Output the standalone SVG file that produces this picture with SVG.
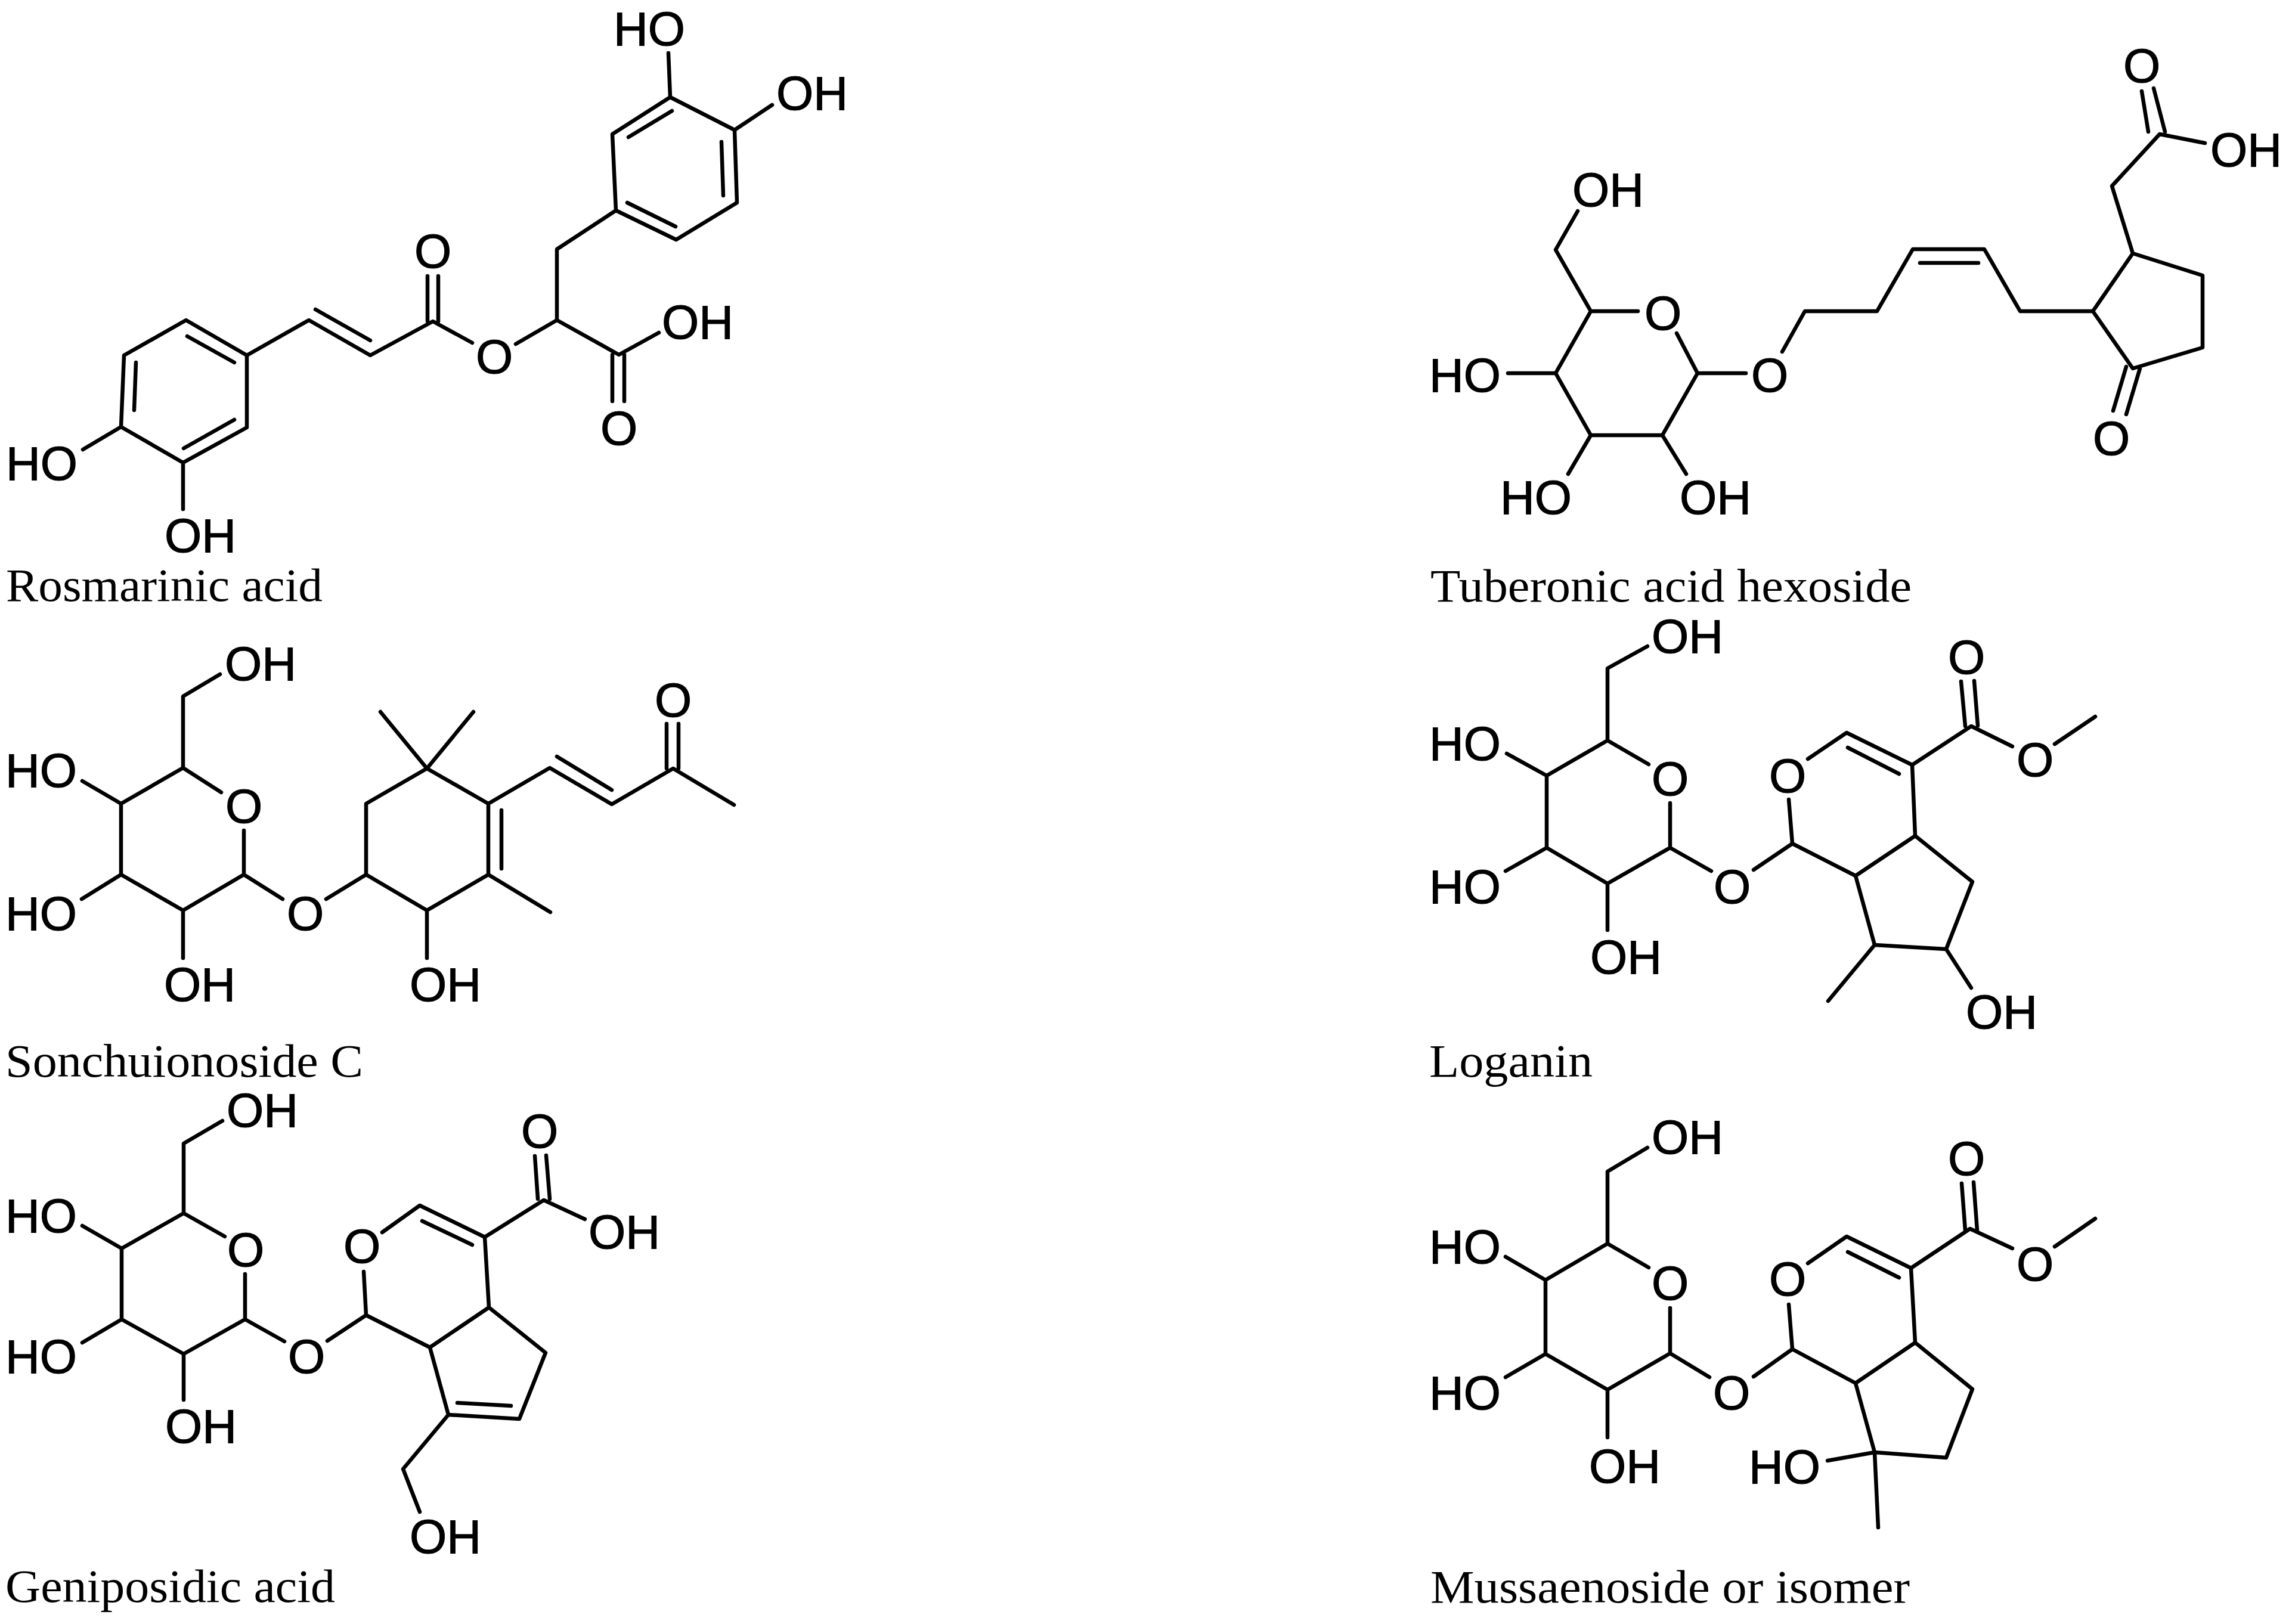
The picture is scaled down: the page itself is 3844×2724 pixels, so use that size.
<svg xmlns="http://www.w3.org/2000/svg" width="3844" height="2724" viewBox="0 0 3844 2724">
<style>
.b{fill:none;stroke:#000;stroke-width:6.5;stroke-linecap:round;stroke-linejoin:round}
.a{font-family:"Liberation Sans",Arial,sans-serif;font-size:80px;fill:#000;stroke:#000;stroke-width:1.2}
.m{text-anchor:middle}
.c{font-family:"Liberation Serif","Times New Roman",serif;font-size:78px;fill:#000}
</style>
<rect width="3844" height="2724" fill="#fff"/>
<g id="rosmarinic-acid">
<path class="b" d="M1124 163L1232 218L1236 340L1134 402L1033 353L1027 225Z M1127 186L1054 230 M1210 238L1213 328 M1133 380L1052 340 M1121 89L1124 163 M1295 176L1232 218 M1033 353L934 418L934 537L865 577 M934 537L1038 595L1105 558 M1027 595L1027 673 M1047 595L1047 673 M792 575L726 539L621 596L518 537L414 596 M717 539L717 463 M735 539L735 463 M621 571L529 519 M414 596L414 717L307 776L203 716L208 596L312 537Z M393 608L314 564 M228 608L225 688 M393 704L308 752 M203 716L139 754 M307 776L307 854"/>
<text class="a" x="1029" y="76">HO</text>
<text class="a" x="1302" y="184">OH</text>
<text class="a m" x="726" y="449">O</text>
<text class="a m" x="829" y="626">O</text>
<text class="a" x="1110" y="568">OH</text>
<text class="a m" x="1038" y="746">O</text>
<text class="a" x="10" y="805">HO</text>
<text class="a" x="276" y="926">OH</text>
<text class="c" x="10" y="1008" textLength="531" lengthAdjust="spacingAndGlyphs">Rosmarinic acid</text>
</g>
<g id="tuberonic-acid-hexoside">
<path class="b" d="M2747 522L2668 522L2609 626L2668 730L2788 730L2847 626L2812 559 M2668 522L2609 419L2646 354 M2609 626L2529 626 M2668 730L2630 795 M2788 730L2828 795 M2847 626L2928 626 M2989 590L3027 522L3148 522L3208 418L3328 418L3388 522L3510 522 M3510 522L3577 425L3694 462L3694 583L3577 618Z M3220 441L3318 441 M3577 425L3542 312L3622 225L3698 240 M3603 221L3592 153 M3631 221L3612 148 M3566 615L3544 689 M3589 618L3566 695"/>
<text class="a m" x="3592" y="138">O</text>
<text class="a" x="3707" y="279">OH</text>
<text class="a" x="2637" y="346">OH</text>
<text class="a m" x="2789" y="553">O</text>
<text class="a m" x="2968" y="657">O</text>
<text class="a" x="2397" y="657">HO</text>
<text class="a" x="2516" y="862">HO</text>
<text class="a" x="2817" y="862">OH</text>
<text class="a m" x="3541" y="763">O</text>
<text class="c" x="2399" y="1009" textLength="807" lengthAdjust="spacingAndGlyphs">Tuberonic acid hexoside</text>
</g>
<g id="sonchuionoside-c">
<path class="b" d="M409 1393L409 1467L307 1527L203 1467L203 1348L307 1288L371 1329 M307 1288L307 1168L369 1131 M203 1348L138 1310 M203 1467L137 1508 M307 1527L307 1607 M409 1467L474 1508 M547 1508L614 1467L614 1348L716 1289L819 1348L819 1467L716 1527L614 1467 M841 1359L841 1457 M716 1289L638 1194 M716 1289L794 1194 M819 1467L923 1530 M716 1527L716 1607 M819 1348L922 1288L1026 1349L1129 1289L1231 1350 M934 1269L1026 1325 M1118 1289L1118 1214 M1138 1289L1138 1214"/>
<text class="a" x="377" y="1141">OH</text>
<text class="a" x="9" y="1320">HO</text>
<text class="a m" x="409" y="1380">O</text>
<text class="a" x="9" y="1560">HO</text>
<text class="a m" x="512" y="1560">O</text>
<text class="a" x="275" y="1679">OH</text>
<text class="a" x="687" y="1679">OH</text>
<text class="a m" x="1129" y="1202">O</text>
<text class="c" x="9" y="1806" textLength="600" lengthAdjust="spacingAndGlyphs">Sonchuionoside C</text>
</g>
<g id="loganin">
<path class="b" d="M2801 1347L2801 1422L2696 1482L2594 1422L2594 1301L2696 1242L2765 1282 M2696 1242L2696 1121L2763 1084 M2594 1301L2527 1264 M2594 1422L2525 1461 M2696 1482L2696 1560 M2801 1422L2870 1461 M2941 1459L3006 1415L3000 1341 M3032 1273L3097 1229L3207 1283L3212 1402L3112 1469L3006 1415 M3099 1254L3185 1298 M3207 1283L3306 1218L3375 1252 M3446 1248L3514 1202 M3296 1218L3289 1143 M3317 1217L3311 1142 M3212 1402L3308 1479L3264 1592L3144 1585L3112 1469 M3144 1585L3066 1679 M3264 1592L3306 1657"/>
<text class="a" x="2770" y="1095">OH</text>
<text class="a" x="2397" y="1275">HO</text>
<text class="a m" x="2801" y="1334">O</text>
<text class="a m" x="2998" y="1329">O</text>
<text class="a m" x="3298" y="1130">O</text>
<text class="a m" x="3413" y="1302">O</text>
<text class="a" x="2397" y="1515">HO</text>
<text class="a m" x="2905" y="1515">O</text>
<text class="a" x="2667" y="1633">OH</text>
<text class="a" x="3297" y="1725">OH</text>
<text class="c" x="2397" y="1806" textLength="274" lengthAdjust="spacingAndGlyphs">Loganin</text>
</g>
<g id="geniposidic-acid">
<path class="b" d="M411 2137L411 2213L308 2271L204 2213L204 2094L308 2035L377 2074 M308 2035L308 1918L373 1880 M204 2094L138 2056 M204 2213L138 2252 M308 2271L308 2348 M411 2213L477 2250 M549 2249L614 2206L610 2133 M641 2067L704 2022L813 2075L820 2193L721 2260L614 2206 M708 2048L792 2088 M813 2075L912 2013L981 2045 M902 2011L897 1939 M922 2011L916 1938 M820 2193L915 2269L871 2380L752 2373L721 2260 M767 2353L857 2358 M752 2373L676 2464L704 2536"/>
<text class="a" x="380" y="1890">OH</text>
<text class="a" x="9" y="2067">HO</text>
<text class="a m" x="412" y="2124">O</text>
<text class="a m" x="607" y="2118">O</text>
<text class="a m" x="905" y="1925">O</text>
<text class="a" x="987" y="2094">OH</text>
<text class="a" x="9" y="2303">HO</text>
<text class="a m" x="514" y="2303">O</text>
<text class="a" x="277" y="2420">OH</text>
<text class="a" x="687" y="2605">OH</text>
<text class="c" x="9" y="2687" textLength="553" lengthAdjust="spacingAndGlyphs">Geniposidic acid</text>
</g>
<g id="mussaenoside-or-isomer">
<path class="b" d="M2801 2194L2801 2270L2696 2331L2592 2271L2592 2147L2696 2086L2765 2126 M2696 2086L2696 1965L2763 1925 M2592 2147L2525 2108 M2592 2271L2525 2310 M2696 2331L2696 2411 M2801 2270L2867 2310 M2941 2309L3006 2263L3000 2188 M3032 2119L3097 2074L3205 2127L3212 2252L3112 2320L3006 2263 M3099 2100L3185 2143 M3205 2127L3304 2061L3375 2094 M3446 2091L3514 2044 M3296 2064L3290 1985 M3316 2064L3310 1983 M3212 2252L3308 2330L3264 2445L3144 2436L3112 2320 M3144 2436L3065 2450 M3144 2436L3150 2562"/>
<text class="a" x="2770" y="1935">OH</text>
<text class="a" x="2397" y="2119">HO</text>
<text class="a m" x="2801" y="2180">O</text>
<text class="a m" x="2998" y="2173">O</text>
<text class="a m" x="3298" y="1971">O</text>
<text class="a m" x="3413" y="2148">O</text>
<text class="a" x="2397" y="2364">HO</text>
<text class="a m" x="2904" y="2364">O</text>
<text class="a" x="2665" y="2487">OH</text>
<text class="a" x="2933" y="2488">HO</text>
<text class="c" x="2399" y="2688" textLength="804" lengthAdjust="spacingAndGlyphs">Mussaenoside or isomer</text>
</g>
</svg>
